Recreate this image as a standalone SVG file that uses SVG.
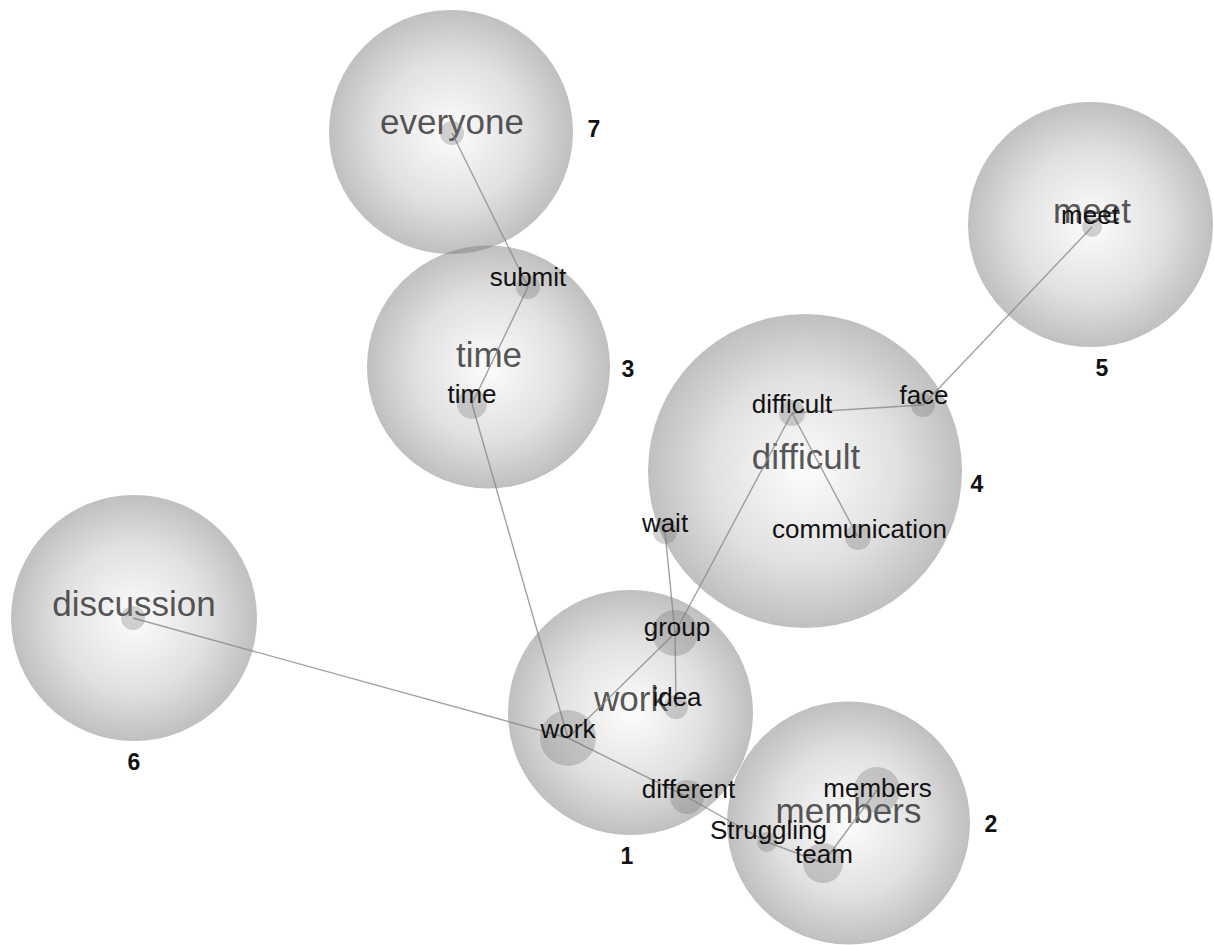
<svg xmlns="http://www.w3.org/2000/svg" width="1214" height="945" viewBox="0 0 1214 945">
<defs>
<radialGradient id="bubble" cx="0.5" cy="0.5" r="0.5">
<stop offset="0" stop-color="#808080" stop-opacity="0.02"/>
<stop offset="0.6" stop-color="#808080" stop-opacity="0.24"/>
<stop offset="1" stop-color="#808080" stop-opacity="0.5"/>
</radialGradient>
<style>
.cl{fill:url(#bubble);}
.big{font-family:"Liberation Sans",Arial,sans-serif;font-size:35px;fill:#2a2a2a;fill-opacity:0.8;text-anchor:middle;}
.num{font-family:"Liberation Sans",Arial,sans-serif;font-size:23px;font-weight:bold;fill:#111;text-anchor:middle;}
.nd{fill:#6e6e6e;fill-opacity:0.3;}
.lb{font-family:"Liberation Sans",Arial,sans-serif;font-size:26px;fill:#111;text-anchor:middle;}
.ed{stroke:#8a8a8a;stroke-width:1.4;stroke-opacity:0.8;fill:none;}
</style>
</defs>
<rect width="1214" height="945" fill="#fff"/>
<g id="clusters">
<g id="cluster7"><circle class="cl" cx="451" cy="132" r="122"/><text class="big" x="452" y="134">everyone</text><text class="num" x="594" y="137">7</text></g>
<g id="cluster3"><circle class="cl" cx="488.5" cy="367" r="121.5"/><text class="big" x="489" y="367">time</text><text class="num" x="628" y="377">3</text></g>
<g id="cluster4"><circle class="cl" cx="805" cy="471" r="157"/><text class="big" x="806" y="469">difficult</text><text class="num" x="977" y="492">4</text></g>
<g id="cluster5"><circle class="cl" cx="1090.5" cy="224.5" r="122.5"/><text class="big" x="1092" y="223">meet</text><text class="num" x="1102" y="376">5</text></g>
<g id="cluster6"><circle class="cl" cx="134" cy="618" r="123"/><text class="big" x="134" y="616">discussion</text><text class="num" x="134" y="770">6</text></g>
<g id="cluster1"><circle class="cl" cx="630.5" cy="712.5" r="122.5"/><text class="big" x="631" y="711">work</text><text class="num" x="627" y="864">1</text></g>
<g id="cluster2"><circle class="cl" cx="848.5" cy="823" r="121.5"/><text class="big" x="848.5" y="823">members</text><text class="num" x="991" y="832">2</text></g>
</g>
<g id="connectors">
<line class="ed" x1="452" y1="133" x2="528" y2="287"/>
<line class="ed" x1="528" y1="287" x2="472" y2="404"/>
<line class="ed" x1="472" y1="404" x2="568" y2="738"/>
<line class="ed" x1="133" y1="618" x2="568" y2="738"/>
<line class="ed" x1="568" y1="738" x2="675" y2="633"/>
<line class="ed" x1="675" y1="633" x2="792" y2="413"/>
<line class="ed" x1="675" y1="633" x2="665" y2="532"/>
<line class="ed" x1="675" y1="633" x2="676" y2="707"/>
<line class="ed" x1="792" y1="413" x2="923" y2="405"/>
<line class="ed" x1="792" y1="413" x2="858" y2="537"/>
<line class="ed" x1="923" y1="405" x2="1092" y2="227"/>
<line class="ed" x1="568" y1="738" x2="687" y2="797"/>
<line class="ed" x1="687" y1="797" x2="767" y2="842"/>
<line class="ed" x1="767" y1="842" x2="823" y2="863"/>
<line class="ed" x1="823" y1="863" x2="877" y2="790"/>
</g>
<g id="words">
<g id="w-everyone"><circle class="nd" cx="452" cy="133" r="12"/></g>
<g id="w-submit"><circle class="nd" cx="528" cy="287" r="12"/><text class="lb" x="528" y="286">submit</text></g>
<g id="w-time"><circle class="nd" cx="472" cy="404" r="15"/><text class="lb" x="472" y="403">time</text></g>
<g id="w-difficult"><circle class="nd" cx="792" cy="413" r="13"/><text class="lb" x="792" y="413">difficult</text></g>
<g id="w-face"><circle class="nd" cx="923" cy="405" r="12"/><text class="lb" x="924" y="404">face</text></g>
<g id="w-wait"><circle class="nd" cx="665" cy="532" r="12"/><text class="lb" x="665" y="532">wait</text></g>
<g id="w-communication"><circle class="nd" cx="858" cy="537" r="13"/><text class="lb" x="859.5" y="538">communication</text></g>
<g id="w-meet"><circle class="nd" cx="1092" cy="227" r="10"/><text class="lb" x="1090" y="224">meet</text></g>
<g id="w-discussion"><circle class="nd" cx="133" cy="618" r="12"/></g>
<g id="w-group"><circle class="nd" cx="675" cy="633" r="23"/><text class="lb" x="677" y="636">group</text></g>
<g id="w-idea"><circle class="nd" cx="676" cy="707" r="12"/><text class="lb" x="677" y="706">idea</text></g>
<g id="w-work"><circle class="nd" cx="568" cy="738" r="28"/><text class="lb" x="568" y="738">work</text></g>
<g id="w-different"><circle class="nd" cx="687" cy="797" r="17"/><text class="lb" x="688.5" y="798">different</text></g>
<g id="w-members"><circle class="nd" cx="877" cy="790" r="23"/><text class="lb" x="877.5" y="797">members</text></g>
<g id="w-struggling"><circle class="nd" cx="767" cy="842" r="10"/><text class="lb" x="768.5" y="839">Struggling</text></g>
<g id="w-team"><circle class="nd" cx="823" cy="863" r="20"/><text class="lb" x="824" y="863">team</text></g>
</g>
</svg>
